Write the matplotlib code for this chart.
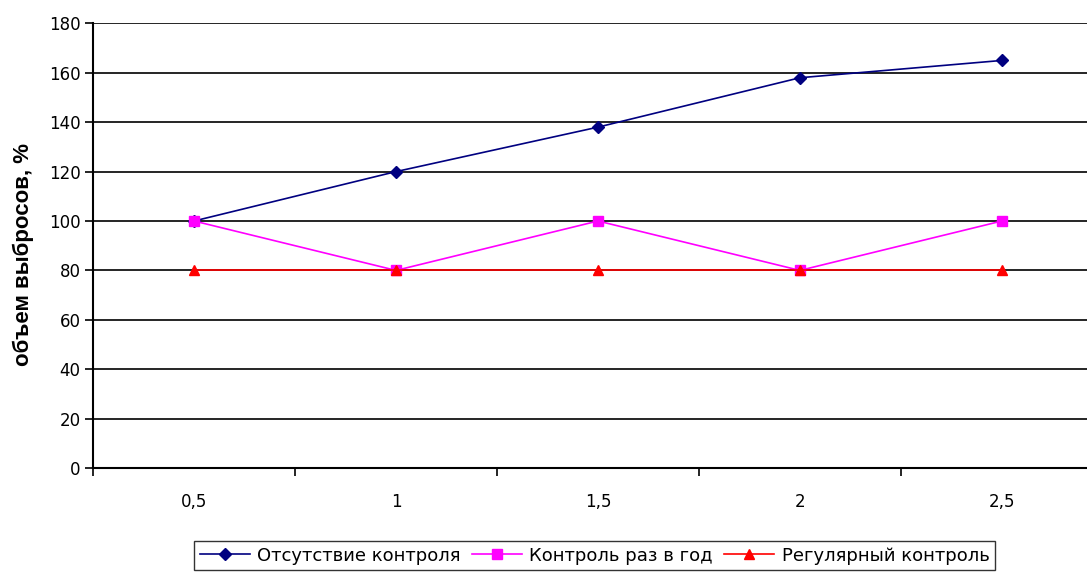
import matplotlib.pyplot as plt

plt.rcParams['font.family'] = ['DejaVu Sans']

# --------- data ----------
periods = ["0,5", "1", "1,5", "2", "2,5"]
no_control = [100, 120, 138, 158, 165]
yearly_control = [100, 80, 100, 80, 100]
regular_control = [80, 80, 80, 80, 80]

# --------- figure ----------
fig = plt.figure(figsize=(10.87, 5.72), dpi=100)
ax = fig.add_axes([0.0856, 0.1818, 0.929, 0.7773])

x = range(len(periods))
ax.plot(x, no_control, color="#000080", lw=1.2, marker="D", ms=6.5,
        label="Отсутствие контроля")
ax.plot(x, yearly_control, color="#FF00FF", lw=1.2, marker="s", ms=6.5,
        label="Контроль раз в год")
ax.plot(x, regular_control, color="#FF0000", lw=1.2, marker="^", ms=7.5,
        label="Регулярный контроль")

ax.set_xlim(-0.5, len(periods) - 0.5)
ax.set_ylim(0, 180)
ax.set_yticks(range(0, 181, 20))
ax.yaxis.grid(True, color="black", lw=1.2)
ax.set_axisbelow(True)

# category labels in the middle, tick marks between categories
ax.set_xticks(list(x))
ax.set_xticklabels(periods)
ax.set_xticks([i - 0.5 for i in range(len(periods) + 1)], minor=True)
ax.tick_params(axis="x", which="major", length=0, pad=18, labelsize=12)
ax.tick_params(axis="x", which="minor", length=6, width=1.2, direction="out")
ax.tick_params(axis="y", length=6, width=1.2, labelsize=12, pad=3)

for side in ["top", "right"]:
    ax.spines[side].set_visible(False)
for side in ["left", "bottom"]:
    ax.spines[side].set_linewidth(1.5)

ax.set_ylabel("объем выбросов, %", fontsize=16, fontweight="bold",
              fontfamily="Liberation Sans")
ax.yaxis.set_label_coords(-0.058, 0.48)

leg = fig.legend(loc="lower center", bbox_to_anchor=(0.547, 0.0), ncol=3,
                 fontsize=13, frameon=True, fancybox=False, edgecolor="black",
                 handlelength=2.8, columnspacing=0.6, handletextpad=0.4,
                 borderpad=0.3, borderaxespad=0.1)
leg.get_frame().set_linewidth(1.0)

plt.savefig("out.png", dpi=100)
